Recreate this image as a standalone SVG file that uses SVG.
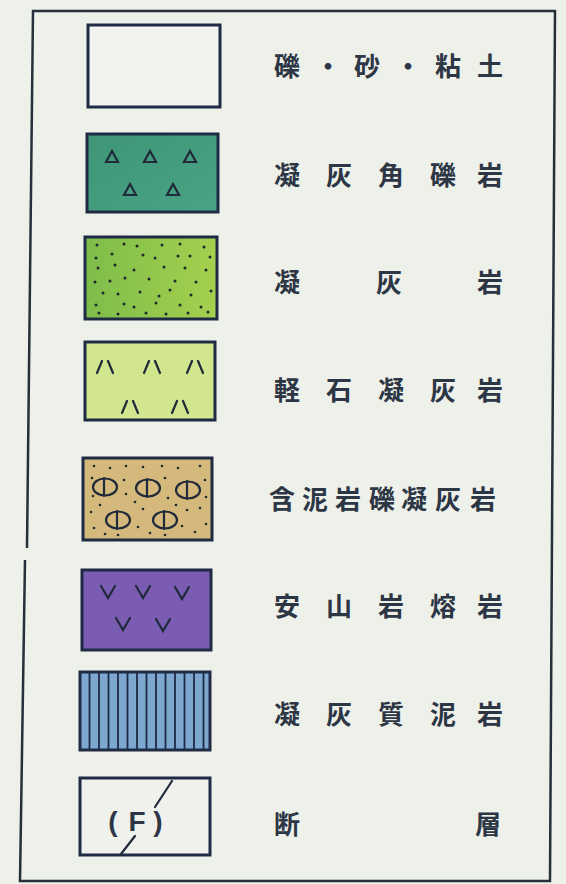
<svg xmlns="http://www.w3.org/2000/svg" width="566" height="884" viewBox="0 0 566 884">
<defs>
<style>
.box{stroke:#1f2a45;stroke-width:3}
.lbl{font-family:"Noto Sans CJK JP","Noto Sans CJK SC",sans-serif;font-weight:bold;font-size:26px;fill:#2c3644;text-anchor:middle;dominant-baseline:central}
.f{font-family:"Liberation Sans",sans-serif;font-weight:bold;font-size:28px;fill:#2c3644;text-anchor:middle;dominant-baseline:central}
.sym{fill:none;stroke:#1f2a3a;stroke-width:2.2;stroke-linecap:round}
.dot{fill:#1f2a30}
</style>
<linearGradient id="g2" x1="0" y1="0" x2="1" y2="1"><stop offset="0" stop-color="#3e9676"/><stop offset="1" stop-color="#49a385"/></linearGradient>
<linearGradient id="g3" x1="0" y1="0" x2="1" y2="0"><stop offset="0" stop-color="#7dbd4a"/><stop offset="1" stop-color="#a6d04e"/></linearGradient>
</defs>
<rect width="566" height="884" fill="#eef0ea"/>
<g id="frame" fill="none" stroke="#24303a" stroke-width="2.5">
<polyline points="27,548 33,11 555,11 550,881 20,881 25,560"/>
</g>

<g id="n1">
<rect class="box" x="88" y="25" width="132" height="82" fill="#f2f3ee"/>
<text class="lbl" x="287" y="64">礫</text><text class="lbl" x="328" y="64">・</text><text class="lbl" x="367" y="64">砂</text><text class="lbl" x="408" y="64">・</text><text class="lbl" x="448" y="64">粘</text><text class="lbl" x="490" y="64">土</text>
</g>

<g id="n2">
<rect class="box" x="87" y="134" width="131" height="78" fill="url(#g2)"/>
<g class="sym" stroke-width="1.8">
<path d="M112,151 L106,162 L118,162 Z"/><path d="M150,151 L144,162 L156,162 Z"/><path d="M190,151 L184,162 L196,162 Z"/>
<path d="M130,184 L124,195 L136,195 Z"/><path d="M173,184 L167,195 L179,195 Z"/>
</g>
<text class="lbl" x="287" y="173">凝</text><text class="lbl" x="339" y="173">灰</text><text class="lbl" x="391" y="173">角</text><text class="lbl" x="443" y="173">礫</text><text class="lbl" x="490" y="173">岩</text>
</g>

<g id="n3">
<rect class="box" x="85" y="237" width="132" height="82" fill="url(#g3)"/>
<g class="dot">
<circle cx="97" cy="245" r="1.5"/><circle cx="124" cy="244" r="1.5"/><circle cx="137" cy="246" r="1.5"/><circle cx="162" cy="245" r="1.5"/><circle cx="180" cy="244" r="1.5"/><circle cx="204" cy="247" r="1.5"/>
<circle cx="96" cy="258" r="1.5"/><circle cx="112" cy="254" r="1.5"/><circle cx="143" cy="255" r="1.5"/><circle cx="155" cy="258" r="1.5"/><circle cx="178" cy="256" r="1.5"/><circle cx="190" cy="256" r="1.5"/><circle cx="210" cy="257" r="1.5"/>
<circle cx="98" cy="268" r="1.5"/><circle cx="115" cy="265" r="1.5"/><circle cx="134" cy="270" r="1.5"/><circle cx="164" cy="267" r="1.5"/><circle cx="185" cy="268" r="1.5"/><circle cx="206" cy="270" r="1.5"/>
<circle cx="95" cy="282" r="1.5"/><circle cx="110" cy="281" r="1.5"/><circle cx="125" cy="278" r="1.5"/><circle cx="149" cy="279" r="1.5"/><circle cx="175" cy="281" r="1.5"/><circle cx="196" cy="282" r="1.5"/>
<circle cx="103" cy="293" r="1.5"/><circle cx="118" cy="294" r="1.5"/><circle cx="140" cy="292" r="1.5"/><circle cx="159" cy="296" r="1.5"/><circle cx="170" cy="290" r="1.5"/><circle cx="191" cy="295" r="1.5"/><circle cx="211" cy="291" r="1.5"/>
<circle cx="96" cy="305" r="1.5"/><circle cx="124" cy="304" r="1.5"/><circle cx="134" cy="307" r="1.5"/><circle cx="156" cy="303" r="1.5"/><circle cx="180" cy="305" r="1.5"/><circle cx="201" cy="307" r="1.5"/>
<circle cx="99" cy="313" r="1.5"/><circle cx="118" cy="314" r="1.5"/><circle cx="146" cy="313" r="1.5"/><circle cx="166" cy="314" r="1.5"/><circle cx="188" cy="313" r="1.5"/><circle cx="208" cy="312" r="1.5"/>
</g>
<text class="lbl" x="287" y="280">凝</text><text class="lbl" x="389" y="280">灰</text><text class="lbl" x="490" y="280">岩</text>
</g>

<g id="n4">
<rect class="box" x="85" y="342" width="130" height="78" fill="#d2e690"/>
<g class="sym" stroke-width="2.4">
<path d="M97,373 L102,361 M108,361 L113,373"/><path d="M144,373 L149,361 M155,361 L160,373"/><path d="M187,373 L192,361 M198,361 L203,373"/>
<path d="M122,413 L127,401 M133,401 L138,413"/><path d="M172,413 L177,401 M183,401 L188,413"/>
</g>
<text class="lbl" x="287" y="388">軽</text><text class="lbl" x="339" y="388">石</text><text class="lbl" x="391" y="388">凝</text><text class="lbl" x="443" y="388">灰</text><text class="lbl" x="490" y="388">岩</text>
</g>

<g id="n5">
<rect class="box" x="83" y="458" width="129" height="82" fill="#d5b97c"/>
<g class="dot">
<circle cx="94" cy="466" r="1.3"/><circle cx="110" cy="468" r="1.3"/><circle cx="126" cy="466" r="1.3"/><circle cx="143" cy="467" r="1.3"/><circle cx="162" cy="466" r="1.3"/><circle cx="178" cy="468" r="1.3"/><circle cx="200" cy="466" r="1.3"/>
<circle cx="92" cy="478" r="1.3"/><circle cx="124" cy="480" r="1.3"/><circle cx="165" cy="478" r="1.3"/><circle cx="205" cy="480" r="1.3"/>
<circle cx="93" cy="496" r="1.3"/><circle cx="126" cy="494" r="1.3"/><circle cx="135" cy="502" r="1.3"/><circle cx="168" cy="498" r="1.3"/><circle cx="176" cy="505" r="1.3"/><circle cx="206" cy="497" r="1.3"/>
<circle cx="91" cy="512" r="1.3"/><circle cx="100" cy="505" r="1.3"/><circle cx="143" cy="509" r="1.3"/><circle cx="187" cy="510" r="1.3"/><circle cx="200" cy="508" r="1.3"/>
<circle cx="94" cy="528" r="1.3"/><circle cx="105" cy="534" r="1.3"/><circle cx="138" cy="527" r="1.3"/><circle cx="150" cy="533" r="1.3"/><circle cx="182" cy="526" r="1.3"/><circle cx="195" cy="532" r="1.3"/><circle cx="206" cy="524" r="1.3"/>
<circle cx="118" cy="535" r="1.3"/><circle cx="165" cy="535" r="1.3"/>
</g>
<g class="sym" stroke-width="2.4">
<ellipse cx="105" cy="487" rx="12" ry="8.5"/><path d="M104,478 V496"/>
<ellipse cx="148" cy="488" rx="12" ry="8.5"/><path d="M147,479 V497"/>
<ellipse cx="188" cy="490" rx="12" ry="8.5"/><path d="M187,481 V499"/>
<ellipse cx="118" cy="520" rx="12" ry="8.5"/><path d="M117,511 V529"/>
<ellipse cx="165" cy="520" rx="12" ry="8.5"/><path d="M164,511 V529"/>
</g>
<text class="lbl" x="282" y="497">含</text><text class="lbl" x="315" y="497">泥</text><text class="lbl" x="348" y="497">岩</text><text class="lbl" x="382" y="497">礫</text><text class="lbl" x="414" y="497">凝</text><text class="lbl" x="448" y="497">灰</text><text class="lbl" x="483" y="497">岩</text>
</g>

<g id="n6">
<rect class="box" x="82" y="570" width="129" height="80" fill="#7a5db2"/>
<g class="sym" stroke-width="2">
<path d="M101,586 L108,598 L115,586"/><path d="M136,586 L143,598 L150,586"/><path d="M175,587 L182,599 L189,587"/>
<path d="M116,618 L123,630 L130,618"/><path d="M156,619 L163,631 L170,619"/>
</g>
<text class="lbl" x="287" y="604">安</text><text class="lbl" x="339" y="604">山</text><text class="lbl" x="391" y="604">岩</text><text class="lbl" x="443" y="604">熔</text><text class="lbl" x="490" y="604">岩</text>
</g>

<g id="n7">
<rect class="box" x="80" y="672" width="130" height="78" fill="#7da7ce"/>
<g stroke="#1f2a45" stroke-width="1.8">
<path d="M89.5,673 V749 M99,673 V749 M108.5,673 V749 M118,673 V749 M127.5,673 V749 M137,673 V749 M146.5,673 V749 M156,673 V749 M165.5,673 V749 M175,673 V749 M184.5,673 V749 M194,673 V749 M203.5,673 V749"/>
</g>
<text class="lbl" x="287" y="712">凝</text><text class="lbl" x="339" y="712">灰</text><text class="lbl" x="391" y="712">質</text><text class="lbl" x="443" y="712">泥</text><text class="lbl" x="490" y="712">岩</text>
</g>

<g id="n8">
<rect class="box" x="80" y="778" width="130" height="77" fill="#f0f1ec"/>
<path class="sym" stroke-width="2.4" d="M155,807 L172,781 M135,836 L121,854"/>
<text class="f" x="113" y="821">(</text><text class="f" x="137" y="821">F</text><text class="f" x="158" y="821">)</text>
<text class="lbl" x="287" y="822">断</text><text class="lbl" x="488" y="822">層</text>
</g>
</svg>
